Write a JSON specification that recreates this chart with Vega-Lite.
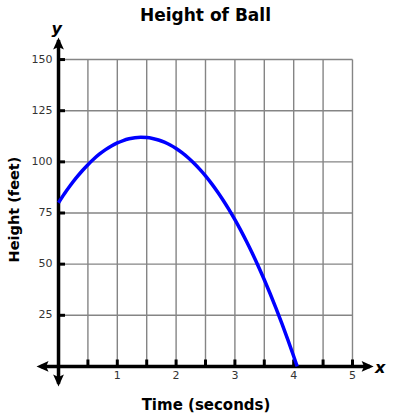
{
  "$schema": "https://vega.github.io/schema/vega-lite/v6.json",
  "autosize": "none",
  "width": 341,
  "height": 356,
  "padding": {"left": 35, "top": 35, "right": 19, "bottom": 26},
  "background": "white",
  "title": {"text": "Height of Ball", "fontSize": 17, "font": "DejaVu Sans", "fontWeight": "bold", "color": "black", "anchor": "middle", "offset": 11, "dy": 15},
  "config": {
    "view": {"stroke": null},
    "axis": {"grid": false, "domain": false, "ticks": false, "labels": false, "titleFont": "DejaVu Sans", "titleFontWeight": "bold", "titleColor": "black"},
    "axisX": {"titleFontSize": 15, "titlePadding": 6},
    "axisY": {"titleFontSize": 14.5, "titlePadding": 14, "titleY": 174}
  },
  "datasets": {
    "ball": [
      {"t": 0, "h": 80}, {"t": 0.1, "h": 84.37}, {"t": 0.2, "h": 88.41}, {"t": 0.3, "h": 92.14}, {"t": 0.4, "h": 95.54},
      {"t": 0.5, "h": 98.63}, {"t": 0.6, "h": 101.39}, {"t": 0.7, "h": 103.84}, {"t": 0.8, "h": 105.96}, {"t": 0.9, "h": 107.77},
      {"t": 1.0, "h": 109.25}, {"t": 1.1, "h": 110.42}, {"t": 1.2, "h": 111.26}, {"t": 1.3, "h": 111.79}, {"t": 1.4, "h": 111.99},
      {"t": 1.5, "h": 111.88}, {"t": 1.6, "h": 111.44}, {"t": 1.7, "h": 110.69}, {"t": 1.8, "h": 109.61}, {"t": 1.9, "h": 108.22},
      {"t": 2.0, "h": 106.5}, {"t": 2.1, "h": 104.47}, {"t": 2.2, "h": 102.11}, {"t": 2.3, "h": 99.44}, {"t": 2.4, "h": 96.44},
      {"t": 2.5, "h": 93.13}, {"t": 2.6, "h": 89.49}, {"t": 2.7, "h": 85.54}, {"t": 2.8, "h": 81.26}, {"t": 2.9, "h": 76.67},
      {"t": 3.0, "h": 71.75}, {"t": 3.1, "h": 66.52}, {"t": 3.2, "h": 60.96}, {"t": 3.3, "h": 55.09}, {"t": 3.4, "h": 48.89},
      {"t": 3.5, "h": 42.38}, {"t": 3.6, "h": 35.54}, {"t": 3.7, "h": 28.39}, {"t": 3.8, "h": 20.91}, {"t": 3.9, "h": 13.12},
      {"t": 4.0, "h": 5.0}, {"t": 4.05, "h": 0.8}, {"t": 4.06, "h": 0}
    ],
    "vgrid": [{"t": 0.5}, {"t": 1}, {"t": 1.5}, {"t": 2}, {"t": 2.5}, {"t": 3}, {"t": 3.5}, {"t": 4}, {"t": 4.5}, {"t": 5}],
    "hgrid": [{"h": 25}, {"h": 50}, {"h": 75}, {"h": 100}, {"h": 125}, {"h": 150}],
    "xlabels": [{"t": 1, "lab": "1"}, {"t": 2, "lab": "2"}, {"t": 3, "lab": "3"}, {"t": 4, "lab": "4"}, {"t": 5, "lab": "5"}],
    "ylabels": [{"h": 25, "lab": "25"}, {"h": 50, "lab": "50"}, {"h": 75, "lab": "75"}, {"h": 100, "lab": "100"}, {"h": 125, "lab": "125"}, {"h": 150, "lab": "150"}],
    "arrows": [
      {"t": 5.36, "h": 0, "dir": "right"},
      {"t": -0.374, "h": 0, "dir": "left"},
      {"t": 0, "h": 160.8, "dir": "up"},
      {"t": 0, "h": -9.8, "dir": "down"}
    ],
    "letters": [{"t": 5.47, "h": -3, "lab": "x"}, {"t": -0.03, "h": 162.3, "lab": "y"}]
  },
  "layer": [
    {
      "data": {"name": "vgrid"},
      "mark": {"type": "rule", "color": "#858585", "strokeWidth": 1.4},
      "encoding": {
        "x": {"field": "t", "type": "quantitative", "title": "Time (seconds)", "scale": {"domain": [-0.4, 5.4], "nice": false, "zero": false}},
        "y": {"datum": 0, "type": "quantitative", "title": "Height (feet)", "scale": {"domain": [-12, 162], "nice": false, "zero": false}},
        "y2": {"datum": 150}
      }
    },
    {
      "data": {"name": "hgrid"},
      "mark": {"type": "rule", "color": "#858585", "strokeWidth": 1.4},
      "encoding": {
        "y": {"field": "h", "type": "quantitative", "title": "Height (feet)"},
        "x": {"datum": 0, "type": "quantitative", "title": "Time (seconds)"},
        "x2": {"datum": 5}
      }
    },
    {
      "data": {"name": "vgrid"},
      "mark": {"type": "rule", "color": "black", "strokeWidth": 3},
      "encoding": {
        "x": {"field": "t", "type": "quantitative", "title": "Time (seconds)"},
        "y": {"datum": 0, "type": "quantitative", "title": "Height (feet)"},
        "y2": {"datum": 3.4}
      }
    },
    {
      "data": {"name": "hgrid"},
      "mark": {"type": "rule", "color": "black", "strokeWidth": 3},
      "encoding": {
        "y": {"field": "h", "type": "quantitative", "title": "Height (feet)"},
        "x": {"datum": 0, "type": "quantitative", "title": "Time (seconds)"},
        "x2": {"datum": 0.11}
      }
    },
    {
      "data": {"values": [{}]},
      "mark": {"type": "rule", "color": "black", "strokeWidth": 3.5},
      "encoding": {
        "x": {"datum": -0.3, "type": "quantitative", "title": "Time (seconds)"},
        "x2": {"datum": 5.3},
        "y": {"datum": 0, "type": "quantitative", "title": "Height (feet)"}
      }
    },
    {
      "data": {"values": [{}]},
      "mark": {"type": "rule", "color": "black", "strokeWidth": 3.5},
      "encoding": {
        "y": {"datum": -8.5, "type": "quantitative", "title": "Height (feet)"},
        "y2": {"datum": 159.5},
        "x": {"datum": 0, "type": "quantitative", "title": "Time (seconds)"}
      }
    },
    {
      "data": {"name": "arrows"},
      "mark": {"type": "point", "filled": true, "color": "black", "opacity": 1, "size": 144, "strokeWidth": 0},
      "encoding": {
        "x": {"field": "t", "type": "quantitative", "title": "Time (seconds)"},
        "y": {"field": "h", "type": "quantitative", "title": "Height (feet)"},
        "shape": {"field": "dir", "type": "nominal", "legend": null,
                  "scale": {"domain": ["right", "left", "up", "down"],
                            "range": ["M0,0L-2,-0.9L-1.6,0L-2,0.9Z", "M0,0L2,-0.9L1.6,0L2,0.9Z", "M0,0L-0.9,2L0,1.6L0.9,2Z", "M0,0L-0.9,-2L0,-1.6L0.9,-2Z"]}}
      }
    },
    {
      "data": {"name": "ball"},
      "mark": {"type": "line", "color": "#0000ff", "strokeWidth": 3.5, "interpolate": "monotone", "strokeCap": "butt"},
      "encoding": {
        "x": {"field": "t", "type": "quantitative", "title": "Time (seconds)"},
        "y": {"field": "h", "type": "quantitative", "title": "Height (feet)"}
      }
    },
    {
      "data": {"name": "xlabels"},
      "mark": {"type": "text", "font": "DejaVu Sans", "fontSize": 11, "color": "#333333", "align": "center", "baseline": "top", "dy": 4},
      "encoding": {
        "x": {"field": "t", "type": "quantitative", "title": "Time (seconds)"},
        "y": {"datum": 0, "type": "quantitative", "title": "Height (feet)"},
        "text": {"field": "lab"}
      }
    },
    {
      "data": {"name": "ylabels"},
      "mark": {"type": "text", "font": "DejaVu Sans", "fontSize": 11, "color": "#333333", "align": "right", "baseline": "middle", "dx": -6},
      "encoding": {
        "y": {"field": "h", "type": "quantitative", "title": "Height (feet)"},
        "x": {"datum": 0, "type": "quantitative", "title": "Time (seconds)"},
        "text": {"field": "lab"}
      }
    },
    {
      "data": {"name": "letters"},
      "mark": {"type": "text", "font": "DejaVu Sans", "fontSize": 16, "fontWeight": "bold", "fontStyle": "italic", "color": "black", "align": "center", "baseline": "alphabetic"},
      "encoding": {
        "x": {"field": "t", "type": "quantitative", "title": "Time (seconds)"},
        "y": {"field": "h", "type": "quantitative", "title": "Height (feet)"},
        "text": {"field": "lab"}
      }
    }
  ]
}
